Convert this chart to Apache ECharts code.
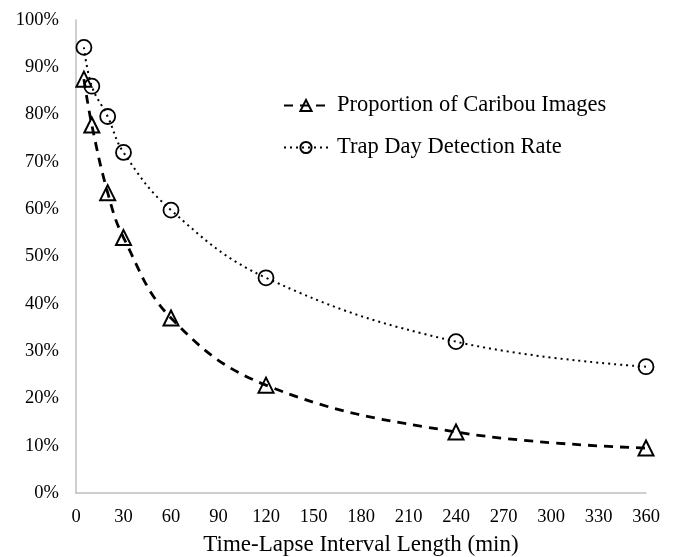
<!DOCTYPE html>
<html><head><meta charset="utf-8">
<script src="https://cdn.jsdelivr.net/npm/echarts@6/dist/echarts.min.js"></script>
<style>html,body{margin:0;padding:0;background:#fff}#c{width:675px;height:557px}</style>
</head><body><div id="c"></div>
<script>
const intervals = [5, 10, 20, 30, 60, 120, 240, 360];
const caribouImages = [87.5, 77.8, 63.5, 54, 37, 22.8, 12.9, 9.5];
const trapDayRate = [94.2, 86, 79.6, 72, 59.8, 45.5, 32, 26.7];
const seriesNames = ['Proportion of Caribou Images', 'Trap Day Detection Rate'];
const xTitle = 'Time-Lapse Interval Length (min)';

const font = 'Liberation Serif';
const chart = echarts.init(document.getElementById('c'));
const pair = (xs, ys) => xs.map((x, i) => [x, ys[i]]);
chart.setOption({
  animation: false,
  backgroundColor: '#fff',
  grid: { left: 76, right: 29, top: 20, bottom: 64, containLabel: false, outerBoundsMode: 'none' },
  legend: {
    orient: 'vertical', left: 278, top: 89, itemGap: 19, itemWidth: 44, itemHeight: 14,
    textStyle: { fontFamily: font, fontSize: 22.5, color: '#000', padding: [0, 0, 0, 4] },
    data: seriesNames
  },
  xAxis: {
    type: 'value', min: 0, max: 360, interval: 30,
    name: xTitle, nameLocation: 'middle', nameGap: 40,
    nameTextStyle: { fontFamily: font, fontSize: 23, color: '#000' },
    axisLine: { lineStyle: { color: '#bfbfbf', width: 1.5 } },
    axisTick: { show: false }, splitLine: { show: false },
    axisLabel: { fontFamily: font, fontSize: 18.5, color: '#000', margin: 15 }
  },
  yAxis: {
    type: 'value', min: 0, max: 100, interval: 10,
    axisLine: { show: true, lineStyle: { color: '#bfbfbf', width: 1.5 } },
    axisTick: { show: false }, splitLine: { show: false },
    axisLabel: { fontFamily: font, fontSize: 18.5, color: '#000', margin: 17, formatter: '{value}%' }
  },
  series: [
    {
      name: seriesNames[0], type: 'line', smooth: 0.4,
      data: pair(intervals, caribouImages),
      symbol: 'triangle', symbolSize: 15,
      lineStyle: { color: '#000', width: 2.8, type: [9, 7] },
      itemStyle: { color: 'rgba(255,255,255,0)', borderColor: '#000', borderWidth: 2 }
    },
    {
      name: seriesNames[1], type: 'line', smooth: 0.4,
      data: pair(intervals, trapDayRate),
      symbol: 'circle', symbolSize: 15,
      lineStyle: { color: '#000', width: 2, type: [2, 4] },
      itemStyle: { color: 'rgba(255,255,255,0)', borderColor: '#000', borderWidth: 1.8 }
    }
  ]
});
</script></body></html>
